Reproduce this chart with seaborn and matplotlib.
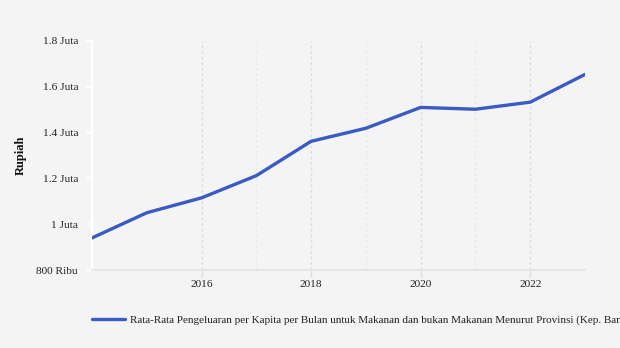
import matplotlib
matplotlib.use("Agg")
import matplotlib.pyplot as plt
import seaborn as sns
import pandas as pd

years = [2014, 2015, 2016, 2017, 2018, 2019, 2020, 2021, 2022, 2023]
values = [0.940, 1.050, 1.115, 1.212, 1.362, 1.419, 1.510, 1.502, 1.533, 1.654]  # million rupiah
yticks = [0.8, 1.0, 1.2, 1.4, 1.6, 1.8]
ytick_labels = ["800 Ribu", "1 Juta", "1.2 Juta", "1.4 Juta", "1.6 Juta", "1.8 Juta"]
xtick_years = [2016, 2018, 2020, 2022]
grid_years = [2016, 2017, 2018, 2019, 2020, 2021, 2022, 2023]
series_name = "Rata-Rata Pengeluaran per Kapita per Bulan untuk Makanan dan bukan Makanan Menurut Provinsi (Kep. Bangka Belitung)"
ylabel = "Rupiah"

sns.set_theme(style="white")
plt.rcParams["font.family"] = ["Liberation Serif", "DejaVu Serif"]

bg = "#f4f4f4"
fig = plt.figure(figsize=(6.2, 3.48), dpi=100, facecolor=bg)
ax = fig.add_axes([92/620, 1-270/348, (585-92)/620, (270-41)/348])
ax.set_facecolor(bg)

df = pd.DataFrame({"Tahun": years, "Nilai": values})
for gy in grid_years:
    ax.axvline(gy, color="#dcdcdc" if gy % 2 == 0 else "#e9e9e9", lw=1.0,
               ls=(0, (2, 2)), zorder=0)
sns.lineplot(data=df, x="Tahun", y="Nilai", ax=ax, color="#3a5ac6", lw=2.4,
             label=series_name, legend=False, zorder=3)

ax.set_xlim(2014, 2023)
ax.set_ylim(0.8, 1.8)
ax.set_yticks(yticks)
ax.set_yticklabels(ytick_labels)
ax.set_xticks(xtick_years)
ax.set_xticklabels([str(y) for y in xtick_years])
ax.tick_params(axis="y", length=4, width=1.2, color="white", labelsize=8.2, labelcolor="#222222", pad=6)
ax.tick_params(axis="x", length=5, width=1.0, color="#dddddd", labelsize=8.2, labelcolor="#222222", pad=2, direction="out")
ax.tick_params(left=True, bottom=True)
for s in ["top", "right"]:
    ax.spines[s].set_visible(False)
ax.spines["left"].set_color("white")
ax.spines["left"].set_linewidth(1.6)
ax.spines["bottom"].set_color("#e2e2e2")
ax.spines["bottom"].set_linewidth(1.2)
ax.set_xlabel("")
ax.set_ylabel(ylabel, fontsize=9, fontweight="bold", color="#111111", labelpad=7)

handles, labels = ax.get_legend_handles_labels()
fig.legend(handles, labels, loc="center left", bbox_to_anchor=(92/620, 1-320/348),
           frameon=False, fontsize=8, handlelength=3.0, handletextpad=0.4,
           borderpad=0, borderaxespad=0, labelcolor="#222222")

fig.savefig("out.png", dpi=100, facecolor=bg)
